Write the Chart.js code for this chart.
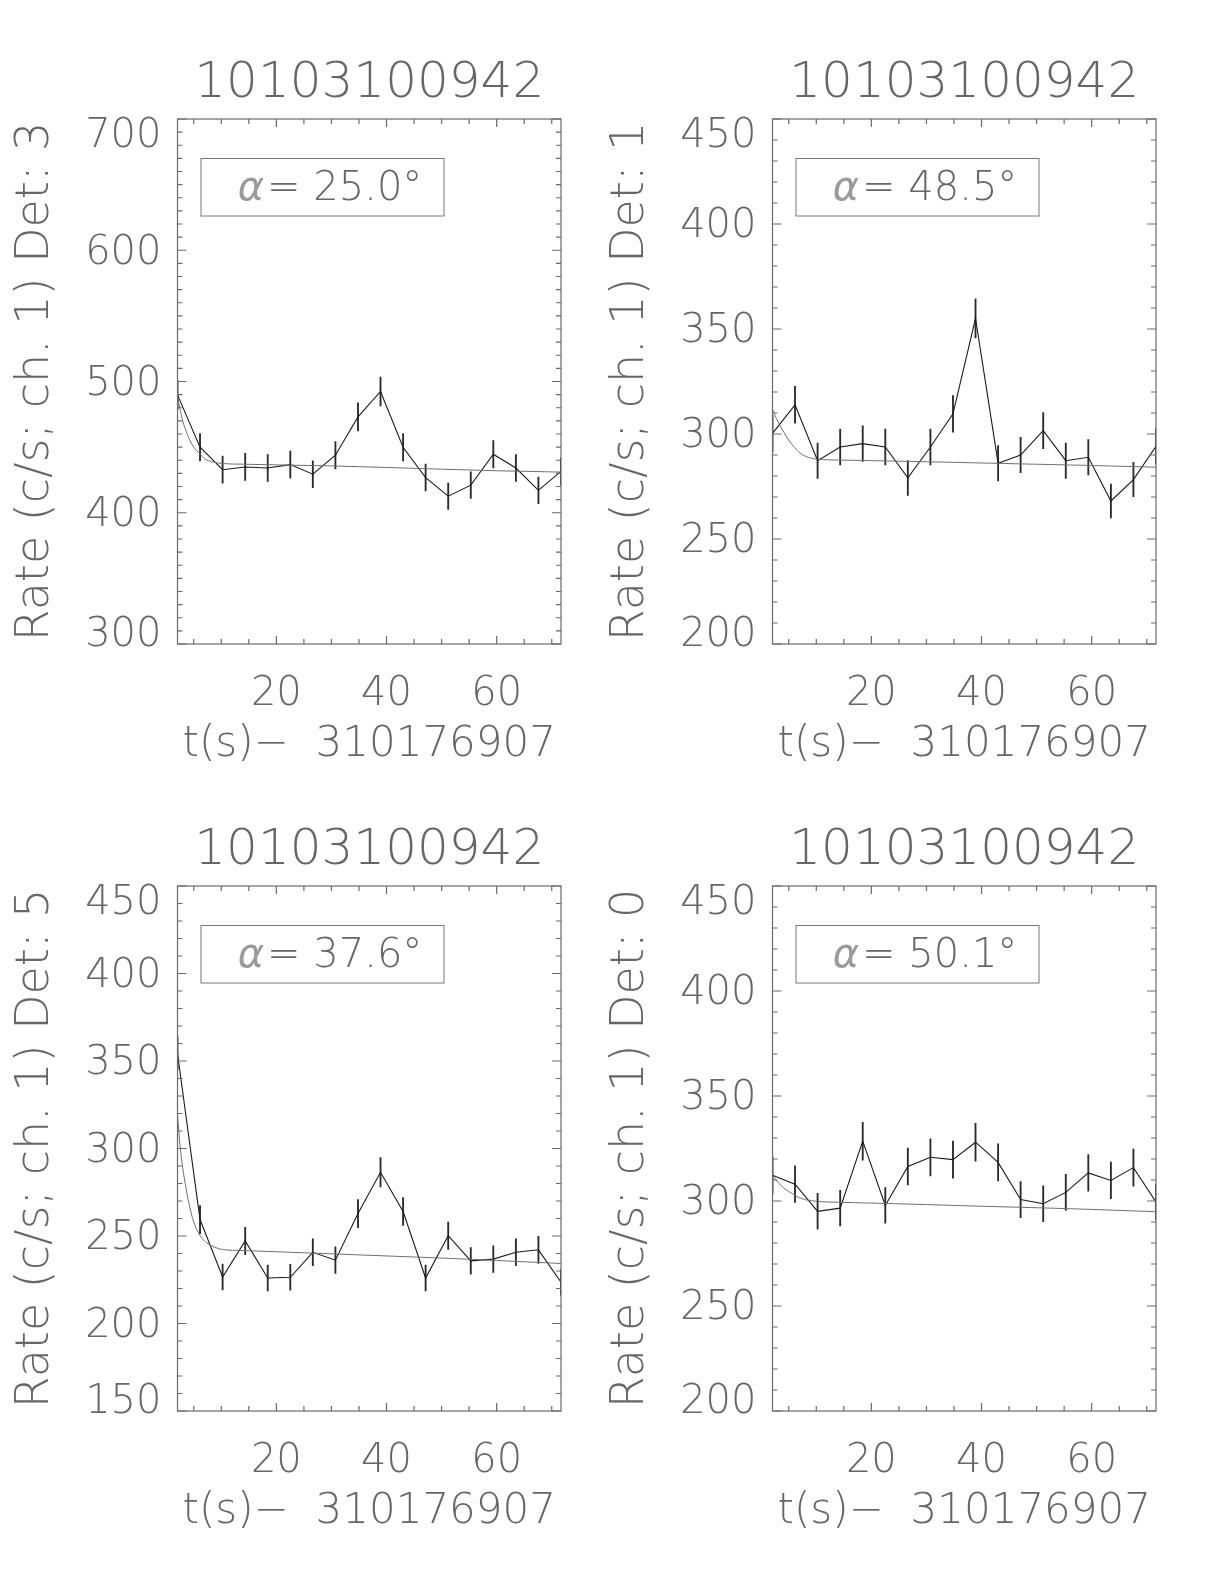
<!DOCTYPE html>
<html>
<head>
<meta charset="utf-8">
<title>10103100942 light curves</title>
<script src="https://cdn.jsdelivr.net/npm/chart.js@4.4.1/dist/chart.umd.min.js"></script>
<style>
  body { margin: 0; background: #fff; }
  canvas { position: absolute; }
</style>
</head>
<body>
<canvas id="det3" width="612" height="792" style="left:0;top:0"></canvas>
<canvas id="det1" width="612" height="792" style="left:595px;top:0"></canvas>
<canvas id="det5" width="612" height="792" style="left:0;top:767px"></canvas>
<canvas id="det0" width="612" height="792" style="left:595px;top:767px"></canvas>
<script>
const FONT = '"DejaVu Sans", sans-serif';
const INK = "#666";

const obsId = "10103100942";
const xTitle = "t(s)\u2212  310176907";

// bin centres, seconds after 310176907
const tBins = [2.05, 6.14, 10.24, 14.34, 18.43, 22.53, 26.62, 30.72, 34.82,
               38.91, 43.01, 47.10, 51.20, 55.30, 59.39, 63.49, 67.58, 71.68];

// Det 3
const rateDet3 = [489.8, 449.9, 432.8, 434.9, 434.1, 436.7, 429.4, 443.8, 473.0,
                  492.4, 449.9, 426.8, 412.6, 421.0, 444.6, 434.1, 417.1, 431.5];
const errDet3  = [10.9, 10.5, 10.3, 10.3, 10.3, 10.3, 10.2, 10.4, 10.7,
                  11.0, 10.5, 10.2, 10.0, 10.1, 10.4, 10.3, 10.1, 10.3];
const modelTDet3 = [2.05, 3.0, 4.0, 5.0, 6.1, 7.0, 8.2, 10.2, 14, 20, 30, 40, 50, 60, 71.68];
const modelDet3  = [488, 470, 458, 450, 445, 441, 439, 437.5, 437, 436.5, 435.7, 434.5, 433.2, 432, 431];

// Det 1
const rateDet1 = [300.3, 313.9, 287.3, 293.8, 295.4, 293.8, 279.1, 293.8, 309.6,
                  355.1, 286.1, 290.0, 301.6, 287.3, 288.9, 268.1, 278.3, 294.1];
const errDet1  = [8.6, 8.8, 8.4, 8.5, 8.5, 8.5, 8.3, 8.5, 8.7,
                  9.3, 8.4, 8.4, 8.6, 8.4, 8.4, 8.1, 8.2, 8.5];
const modelTDet1 = [2.05, 3.0, 4.2, 5.0, 6.1, 7.0, 8.1, 10.2, 14, 20, 30, 40, 50, 60, 71.68];
const modelDet1  = [311.8, 306, 300.5, 297, 293.5, 291, 289.3, 288, 287.6, 287.3, 286.8, 286.2, 285.6, 285, 284.2];

// Det 5
const rateDet5 = [354.3, 259.4, 226.6, 247.2, 226.0, 226.4, 240.7, 236.2, 262.8,
                  286.4, 264.0, 226.0, 250.2, 235.8, 236.8, 240.7, 242.1, 223.6];
const errDet5  = [9.3, 8.0, 7.4, 7.8, 7.4, 7.4, 7.7, 7.6, 8.0,
                  8.4, 8.0, 7.4, 7.8, 7.6, 7.6, 7.7, 7.7, 7.4];
const modelTDet5 = [2.05, 2.5, 3.0, 3.5, 4.0, 4.5, 5.0, 6.1, 7.0, 8.2, 10.2, 14, 20, 30, 40, 50, 60, 71.68];
const modelDet5  = [319.5, 302, 289, 279, 270.5, 263.5, 258, 250.5, 247, 244.5, 242.3, 241.7, 241, 239.8, 238.6, 237.4, 236, 234.3];

// Det 0
const rateDet0 = [312.3, 308.0, 295.1, 296.6, 328.5, 297.9, 316.4, 320.8, 319.7,
                  328.0, 318.4, 300.7, 298.7, 304.1, 313.4, 309.8, 315.9, 299.5];
const errDet0  = [8.7, 8.7, 8.5, 8.5, 9.0, 8.5, 8.8, 8.8, 8.8,
                  9.0, 8.8, 8.6, 8.5, 8.6, 8.7, 8.7, 8.8, 8.6];
const modelTDet0 = [2.05, 3.0, 4.0, 5.0, 6.1, 7.0, 8.1, 10.2, 14, 20, 30, 40, 50, 60, 71.68];
const modelDet0  = [312.3, 309, 306.5, 304.5, 302.8, 301.5, 300.6, 299.8, 299.4, 299, 298.3, 297.5, 296.8, 296, 294.9];

const panels = [
    { id: "det3", det: 3, rate: rateDet3, err: errDet3, mt: modelTDet3, my: modelDet3, yMin: 300, yMax: 700, yStep: 100, alpha: "25.0" },
    { id: "det1", det: 1, rate: rateDet1, err: errDet1, mt: modelTDet1, my: modelDet1, yMin: 200, yMax: 450, yStep: 50, alpha: "48.5" },
    { id: "det5", det: 5, rate: rateDet5, err: errDet5, mt: modelTDet5, my: modelDet5, yMin: 150, yMax: 450, yStep: 50, alpha: "37.6" },
    { id: "det0", det: 0, rate: rateDet0, err: errDet0, mt: modelTDet0, my: modelDet0, yMin: 200, yMax: 450, yStep: 50, alpha: "50.1" }
];

/* IDL-style frame: box, inward ticks on all sides, y labels, angle label */
const idlFrame = {
    id: "idlFrame",
    afterDatasetsDraw(chart, args, opts) {
        const { ctx, chartArea: a, scales: { x, y } } = chart;
        ctx.save();
        ctx.strokeStyle = "#6a6a6a";
        ctx.lineWidth = 1.2;
        ctx.strokeRect(a.left, a.top, a.width, a.height);

        ctx.beginPath();
        for (let v = Math.ceil(x.min / opts.xMinor) * opts.xMinor; v <= x.max; v += opts.xMinor) {
            const px = x.getPixelForValue(v);
            const len = v % opts.xMajor === 0 ? 8 : 5;
            ctx.moveTo(px, a.bottom); ctx.lineTo(px, a.bottom - len);
            ctx.moveTo(px, a.top); ctx.lineTo(px, a.top + len);
        }
        for (let v = Math.ceil(y.min / opts.yMinor) * opts.yMinor; v <= y.max; v += opts.yMinor) {
            const py = y.getPixelForValue(v);
            const len = v % opts.yMajor === 0 ? 9 : 5;
            ctx.moveTo(a.left, py); ctx.lineTo(a.left + len, py);
            ctx.moveTo(a.right, py); ctx.lineTo(a.right - len, py);
        }
        ctx.stroke();

        // y tick labels, end labels pulled inside the axis range like IDL does
        ctx.fillStyle = INK;
        ctx.font = "200 40px " + FONT;
        ctx.textAlign = "right";
        ctx.textBaseline = "middle";
        y.ticks.forEach((tk, i) => {
            let py = y.getPixelForValue(tk.value) + 3;
            if (i === 0) py -= 11;
            if (i === y.ticks.length - 1) py += 15;
            ctx.fillText(tk.label, a.left - 16, py);
        });

        // angle box
        const bx = a.left + 23.5, by = a.top + 39.5, bw = 243, bh = 57.5;
        ctx.strokeStyle = "#777";
        ctx.lineWidth = 1;
        ctx.strokeRect(bx, by, bw, bh);
        const greek = "\u03b1";
        const rest = "= " + opts.alpha + "\u00b0";
        ctx.textAlign = "left";
        ctx.font = "italic 200 40px " + FONT;
        const gw = ctx.measureText(greek).width;
        ctx.font = "200 40px " + FONT;
        const rw = ctx.measureText(rest).width;
        const tx = a.left + 151 - (gw + rw) / 2;
        const ty = by + bh / 2 + 2;
        ctx.fillStyle = "#9a9a9a"; // oblique has no light face, lighten it instead
        ctx.font = "italic 200 40px " + FONT;
        ctx.fillText(greek, tx, ty);
        ctx.fillStyle = INK;
        ctx.font = "200 40px " + FONT;
        ctx.fillText(rest, tx + gw + 3, ty);
        ctx.restore();
    }
};

function makePanel(p) {
    const errBars = tBins.map((t, i) => ({ x: t, y: [p.rate[i] - p.err[i], p.rate[i] + p.err[i]] }));
    const counts = tBins.map((t, i) => ({ x: t, y: p.rate[i] }));
    const model = p.mt.map((t, i) => ({ x: t, y: p.my[i] }));

    new Chart(document.getElementById(p.id), {
        type: "line",
        data: {
            datasets: [
                {
                    data: model,
                    borderColor: "#707070",
                    borderWidth: 1,
                    pointRadius: 0,
                    cubicInterpolationMode: "monotone"
                },
                {
                    data: counts,
                    borderColor: "#1a1a1a",
                    borderWidth: 1.1,
                    pointRadius: 0,
                    tension: 0
                },
                {
                    type: "bar",
                    data: errBars,
                    backgroundColor: "#2a2a2a",
                    borderWidth: 0,
                    barThickness: 1.2,
                    grouped: false
                }
            ]
        },
        options: {
            responsive: false,
            animation: false,
            devicePixelRatio: 1,
            events: [],
            layout: { padding: { left: 0, right: 51, top: 0, bottom: 0 } },
            plugins: {
                legend: { display: false },
                tooltip: { enabled: false },
                title: {
                    display: true,
                    fullSize: false,
                    text: obsId,
                    color: INK,
                    font: { family: FONT, size: 50, weight: 200, lineHeight: 1 },
                    padding: { top: 59, bottom: 10 }
                },
                idlFrame: { xMinor: 5, xMajor: 20, yMinor: 10, yMajor: p.yStep, alpha: p.alpha }
            },
            scales: {
                x: {
                    type: "linear",
                    min: tBins[0],
                    max: tBins[tBins.length - 1],
                    offset: false,
                    grid: { display: false, drawTicks: false },
                    border: { display: false },
                    ticks: {
                        stepSize: 20,
                        includeBounds: false,
                        maxRotation: 0,
                        color: INK,
                        padding: 31,
                        font: { family: FONT, size: 40, weight: 200, lineHeight: 1 }
                    },
                    title: {
                        display: true,
                        text: xTitle,
                        color: INK,
                        font: { family: FONT, size: 42, weight: 200, lineHeight: 1 },
                        padding: { top: 0, bottom: 26 }
                    },
                    afterFit: s => { s.height = 148; }
                },
                y: {
                    min: p.yMin,
                    max: p.yMax,
                    grid: { display: false, drawTicks: false },
                    border: { display: false },
                    ticks: { stepSize: p.yStep, display: false },
                    title: {
                        display: true,
                        text: "Rate (c/s; ch. 1) Det: " + p.det,
                        color: INK,
                        font: { family: FONT, size: 46, weight: 200, lineHeight: 1 },
                        padding: { top: 13, bottom: 0 }
                    },
                    afterFit: s => { s.width = 177.5; }
                }
            }
        },
        plugins: [idlFrame]
    });
}

panels.forEach(makePanel);
</script>
</body>
</html>
